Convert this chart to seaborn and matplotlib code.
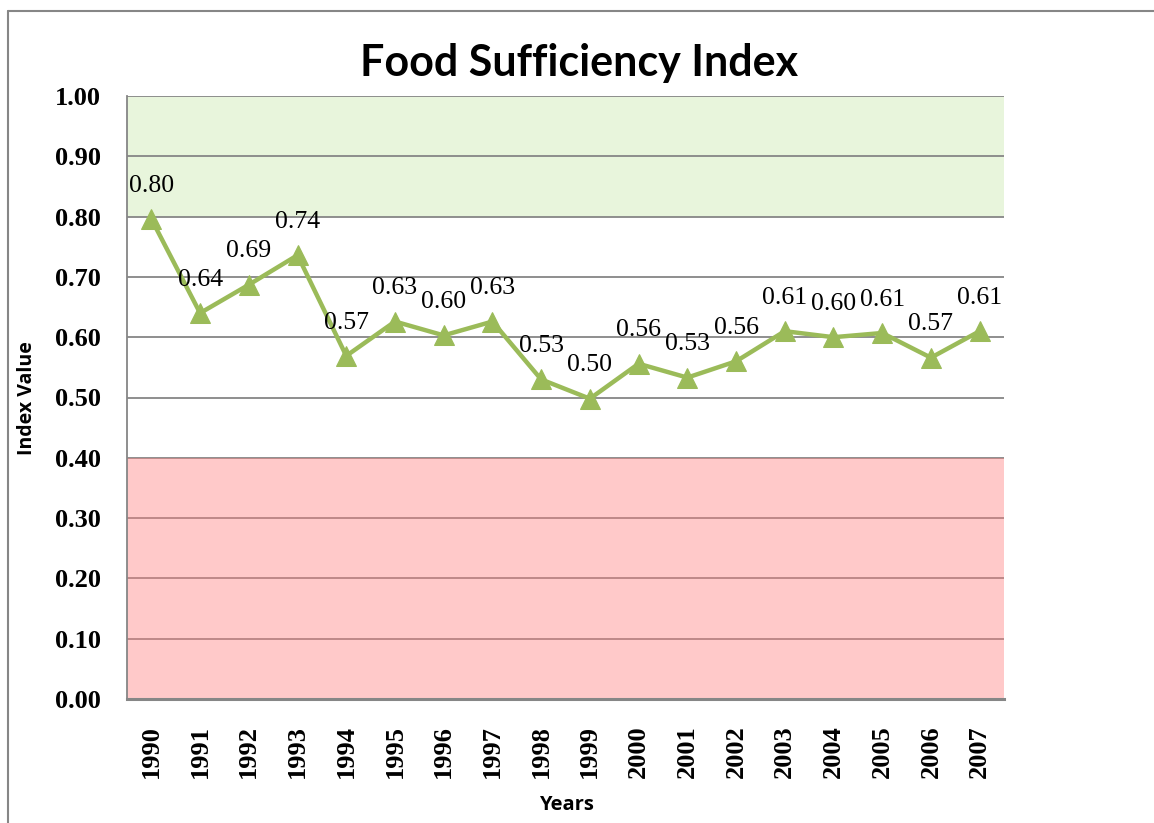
import matplotlib
matplotlib.use("Agg")
import matplotlib.pyplot as plt
import seaborn as sns
import pandas as pd
from matplotlib.lines import Line2D

years = [1990, 1991, 1992, 1993, 1994, 1995, 1996, 1997, 1998,
         1999, 2000, 2001, 2002, 2003, 2004, 2005, 2006, 2007]
index_values = [0.796, 0.640, 0.687, 0.736, 0.569, 0.626, 0.603, 0.626, 0.530,
                0.498, 0.556, 0.533, 0.560, 0.610, 0.600, 0.607, 0.566, 0.610]
y_ticks = [0.0, 0.1, 0.2, 0.3, 0.4, 0.5, 0.6, 0.7, 0.8, 0.9, 1.0]
green_zone = (0.8, 1.0)
red_zone = (0.0, 0.4)

df = pd.DataFrame({"Year": years, "Index": index_values})

sns.set_theme(style="white")
plt.rcParams["font.family"] = ["Liberation Serif", "DejaVu Serif"]
plt.rcParams["text.color"] = "black"
plt.rcParams["xtick.color"] = "black"
plt.rcParams["ytick.color"] = "black"

fig = plt.figure(figsize=(11.54, 8.23), dpi=100)
ax = fig.add_axes([127 / 1154, 1 - 699 / 823, (1004 - 127) / 1154, (699 - 96) / 823])

line_color = "#9BBB59"
grid_color = "#868686"

ax.axhspan(*green_zone, color="#E8F5DC", zorder=0, lw=0)
for t in y_ticks:
    ax.axhline(t, color=grid_color, lw=1.3, zorder=0.5)
ax.axhspan(*red_zone, color=(1.0, 0.5, 0.5), alpha=0.42, zorder=0.6, lw=0)

sns.lineplot(data=df, x="Year", y="Index", ax=ax, color=line_color, lw=3.2,
             marker="^", markersize=15, markeredgecolor=line_color, zorder=3)

for yr, v in zip(years, index_values):
    ax.annotate(f"{v:.2f}", (yr, v), xytext=(0, 24), textcoords="offset points",
                ha="center", va="center", fontsize=18.5, color="black", zorder=4,
                family=["Liberation Serif", "DejaVu Serif"])

ax.set_xlim(years[0] - 0.5, years[-1] + 0.5)
ax.set_ylim(0, 1.0)
ax.set_xticks(years)
ax.set_xticklabels([str(y) for y in years], rotation=90, fontsize=19, fontweight="bold")
ax.set_yticks(y_ticks)
ax.set_yticklabels([f"{t:.2f}" for t in y_ticks], fontsize=19, fontweight="bold")
ax.tick_params(axis="both", length=0, colors="black")
ax.tick_params(axis="y", pad=19)
ax.tick_params(axis="x", pad=19)

for s in ["top", "right"]:
    ax.spines[s].set_visible(False)
ax.spines["left"].set_color(grid_color)
ax.spines["left"].set_linewidth(1.3)
ax.spines["bottom"].set_color(grid_color)
ax.spines["bottom"].set_linewidth(2.2)

ax.set_xlabel("")
ax.set_ylabel("")
fig.text(27 / 1154, 1 - 398 / 823, "Index Value", rotation=90, ha="center", va="center",
         fontsize=14, fontweight="bold", color="black", family=["Open Sans", "DejaVu Sans"])
fig.text(566 / 1154, 1 - 805 / 823, "Years", ha="center", va="center",
         fontsize=14.5, fontweight="bold", color="black", family=["Open Sans", "DejaVu Sans"])
fig.text(579 / 1154, 1 - 63 / 823, "Food Sufficiency Index", ha="center", va="center",
         fontsize=31, fontweight="bold", color="black", family=["Lato", "DejaVu Sans"])

# outer chart border (top and left edges visible)
fig.add_artist(Line2D([8 / 1154, 8 / 1154], [0, 1 - 11 / 823], transform=fig.transFigure,
                      color=grid_color, lw=1.5))
fig.add_artist(Line2D([8 / 1154, 1], [1 - 11 / 823, 1 - 11 / 823], transform=fig.transFigure,
                      color=grid_color, lw=1.5))

fig.savefig("out.png", dpi=100, facecolor="white")
